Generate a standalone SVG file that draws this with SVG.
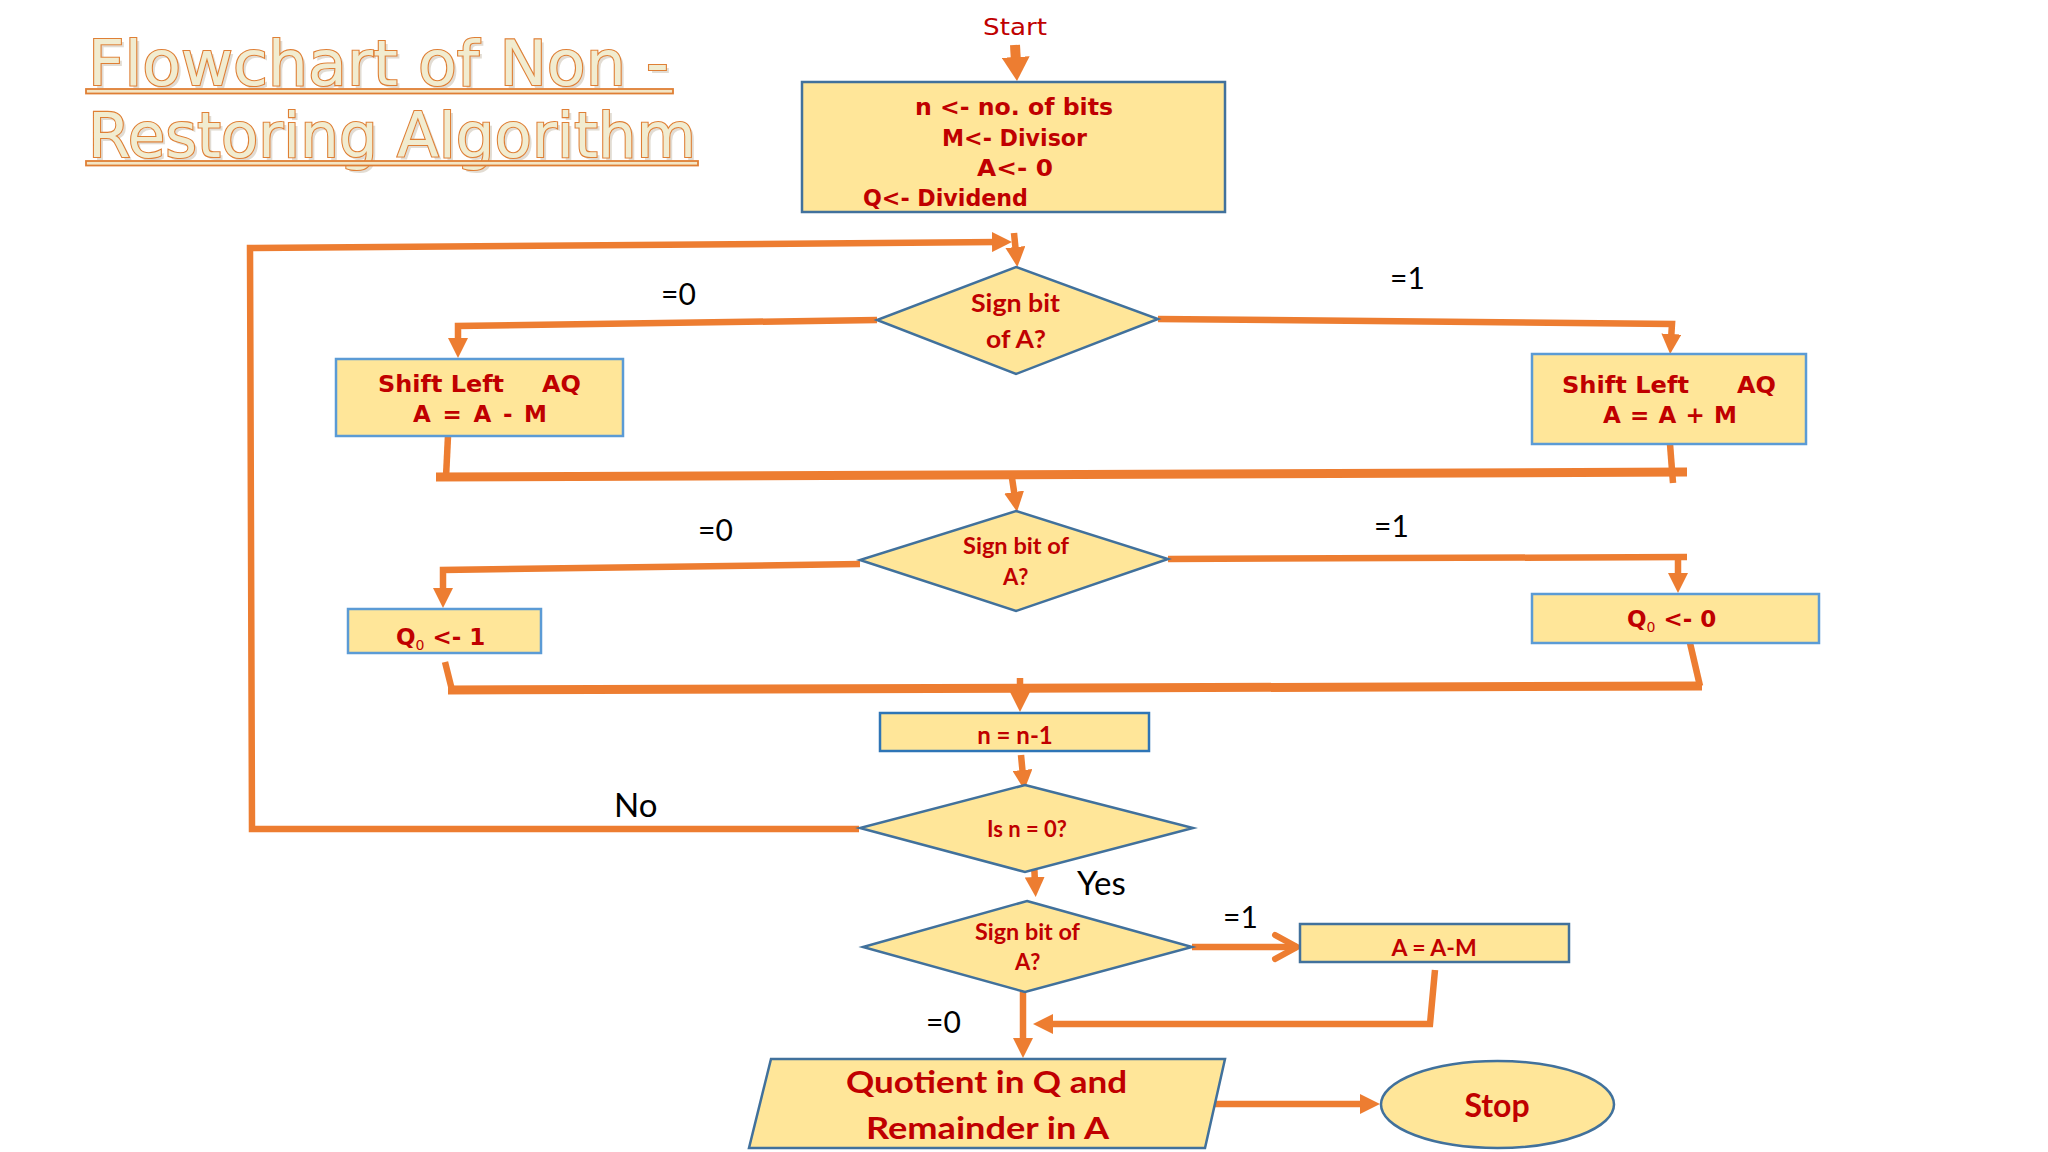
<svg xmlns="http://www.w3.org/2000/svg" width="2048" height="1152" viewBox="0 0 2048 1152">
<defs>
<style>
.bg{fill:#ffffff}
.box{fill:#ffe699;stroke:#41719c;stroke-width:2.5}
.boxl{fill:#ffe699;stroke:#5b9bd5;stroke-width:2.5}
.cn{fill:none;stroke:#ed7d31;stroke-width:6.5;stroke-linejoin:miter}
.thick{fill:none;stroke:#ed7d31;stroke-width:9}
.cm{font-family:"DejaVu Sans",sans-serif;font-weight:bold;fill:#c00000;font-size:23px}
.cb{font-family:Lato,"Open Sans",sans-serif;font-weight:bold;fill:#c00000}
.lb{font-family:Lato,"Open Sans",sans-serif;fill:#000000;font-size:30px}
.title{font-family:"DejaVu Sans",sans-serif;font-size:62px;fill:#f1ecd0;stroke:#df7f35;stroke-width:2.2;paint-order:stroke}
.tshadow{font-family:"DejaVu Sans",sans-serif;font-size:62px;fill:#cfc6b6;opacity:0.6}
.ul{fill:#f3e6c6;stroke:#df7f35;stroke-width:1.8}
</style>
<marker id="ah" markerUnits="userSpaceOnUse" viewBox="0 0 20 20" markerWidth="20" markerHeight="20" refX="6" refY="10" orient="auto">
<path d="M0,0 L20,10 L0,20 z" fill="#ed7d31"/>
</marker>
<marker id="ahBig" markerUnits="userSpaceOnUse" viewBox="0 0 24 28" markerWidth="24" markerHeight="28" refX="6" refY="14" orient="auto">
<path d="M0,0 L24,14 L0,28 z" fill="#ed7d31"/>
</marker>
<marker id="chev" markerUnits="userSpaceOnUse" viewBox="-4 -4 32 32" markerWidth="32" markerHeight="32" refX="22" refY="12" orient="auto" overflow="visible">
<path d="M0,0 L22,12 L0,24" fill="none" stroke="#ed7d31" stroke-width="6" stroke-linecap="round" stroke-linejoin="round"/>
</marker>
</defs>
<rect class="bg" x="0" y="0" width="2048" height="1152"/>

<g id="title">
<text class="tshadow" x="91" y="88" textLength="581" lengthAdjust="spacingAndGlyphs">Flowchart of Non -</text>
<text class="title" x="88" y="85" textLength="581" lengthAdjust="spacingAndGlyphs">Flowchart of Non -</text>
<rect class="ul" x="86" y="89" width="587" height="4.5"/>
<text class="tshadow" x="91" y="160" textLength="608" lengthAdjust="spacingAndGlyphs">Restoring Algorithm</text>
<text class="title" x="88" y="157" textLength="608" lengthAdjust="spacingAndGlyphs">Restoring Algorithm</text>
<rect class="ul" x="86" y="161" width="612" height="4.5"/>
</g>

<g id="connectors">
<path class="cn" style="stroke-width:10" d="M1015,45 L1016,63" marker-end="url(#ahBig)"/>
<path class="cn" d="M859,829 L252,829 L250,248 L998,242" marker-end="url(#ah)"/>
<path class="cn" d="M1014,233 L1016,253" marker-end="url(#ah)"/>
<path class="cn" d="M877,320 L458,326 L458,344" marker-end="url(#ah)"/>
<path class="cn" d="M1158,319 L1672,324 L1671,340" marker-end="url(#ah)"/>
<path class="cn" d="M448,436 L446,477"/>
<path class="thick" d="M436,477 L1687,472"/>
<path class="cn" d="M1670,444 L1673,483"/>
<path class="cn" d="M1012,478 L1015,498" marker-end="url(#ah)"/>
<path class="cn" d="M860,564 L443,570 L443,594" marker-end="url(#ah)"/>
<path class="cn" d="M1168,559 L1687,557"/>
<path class="cn" d="M1678,557 L1678,579" marker-end="url(#ah)"/>
<path class="cn" d="M445,662 L452,690"/>
<path class="thick" d="M448,690 L1702,686"/>
<path class="cn" d="M1690,643 L1700,686"/>
<path class="cn" d="M1020,678 L1020,698" marker-end="url(#ah)"/>
<path class="cn" d="M1021,755 L1023,776" marker-end="url(#ah)"/>
<path class="cn" d="M1034,862 L1035,883" marker-end="url(#ah)"/>
<path class="cn" d="M1192,947 L1297,947" marker-end="url(#chev)"/>
<path class="cn" d="M1435,970 L1430,1024 L1047,1024" marker-end="url(#ah)"/>
<path class="cn" d="M1023,992 L1023,1044" marker-end="url(#ah)"/>
<path class="cn" d="M1213,1104 L1366,1104" marker-end="url(#ah)"/>
</g>

<g id="labels">
<text class="lb" x="661" y="305">=0</text>
<text class="lb" x="1390" y="289">=1</text>
<text class="lb" x="698" y="541">=0</text>
<text class="lb" x="1374" y="537">=1</text>
<text class="lb" x="614" y="817" style="font-size:33px">No</text>
<text class="lb" x="1077" y="895" style="font-size:33px">Yes</text>
<text class="lb" x="1223" y="928">=1</text>
<text class="lb" x="926" y="1033">=0</text>
</g>

<g id="start">
<text x="983" y="35" textLength="64" lengthAdjust="spacingAndGlyphs" style="font-family:'DejaVu Sans',sans-serif;font-size:23px;fill:#c00000">Start</text>
</g>

<g id="init">
<rect class="box" x="802" y="82" width="423" height="130"/>
<text class="cm" x="915" y="115" textLength="198" lengthAdjust="spacingAndGlyphs">n &lt;- no. of bits</text>
<text class="cm" x="942" y="146" textLength="145" lengthAdjust="spacingAndGlyphs">M&lt;- Divisor</text>
<text class="cm" x="977" y="176" textLength="76" lengthAdjust="spacingAndGlyphs">A&lt;- 0</text>
<text class="cm" x="863" y="206" textLength="165" lengthAdjust="spacingAndGlyphs">Q&lt;- Dividend</text>
</g>

<g id="sign1">
<polygon class="box" points="1016,267 1158,319 1016,374 877,320"/>
<text class="cb" x="971" y="312" style="font-size:24px" textLength="89" lengthAdjust="spacingAndGlyphs">Sign bit</text>
<text class="cb" x="986" y="348" style="font-size:24px" textLength="60" lengthAdjust="spacingAndGlyphs">of A?</text>
</g>

<g id="shiftSub">
<rect class="boxl" x="336" y="359" width="287" height="77"/>
<text class="cm" x="378" y="392" textLength="126" lengthAdjust="spacingAndGlyphs">Shift Left</text>
<text class="cm" x="542" y="392" textLength="39" lengthAdjust="spacingAndGlyphs">AQ</text>
<text class="cm" x="413" y="422" textLength="134" lengthAdjust="spacing">A = A - M</text>
</g>

<g id="shiftAdd">
<rect class="boxl" x="1532" y="354" width="274" height="90"/>
<text class="cm" x="1562" y="393" textLength="127" lengthAdjust="spacingAndGlyphs">Shift Left</text>
<text class="cm" x="1737" y="393" textLength="39" lengthAdjust="spacingAndGlyphs">AQ</text>
<text class="cm" x="1603" y="423" textLength="134" lengthAdjust="spacing">A = A + M</text>
</g>

<g id="sign2">
<polygon class="box" points="1016,511 1168,559 1016,611 860,560"/>
<text class="cb" x="963" y="554" style="font-size:22px" textLength="106" lengthAdjust="spacingAndGlyphs">Sign bit of</text>
<text class="cb" x="1003" y="585" style="font-size:22px">A?</text>
</g>

<g id="q0set1">
<rect class="boxl" x="348" y="609" width="193" height="44"/>
<text class="cm" x="396" y="645"><tspan>Q</tspan><tspan style="font-size:14px;font-weight:normal" dy="5">0</tspan><tspan dy="-5"> &lt;- 1</tspan></text>
</g>

<g id="q0set0">
<rect class="boxl" x="1532" y="594" width="287" height="49"/>
<text class="cm" x="1627" y="627"><tspan>Q</tspan><tspan style="font-size:14px;font-weight:normal" dy="5">0</tspan><tspan dy="-5"> &lt;- 0</tspan></text>
</g>

<g id="decrement">
<rect class="box" x="880" y="713" width="269" height="38" style="stroke:#2e75b6"/>
<text class="cb" x="1015" y="744" text-anchor="middle" style="font-size:24px">n = n-1</text>
</g>

<g id="isZero">
<polygon class="box" points="1025,785 1193,828 1025,872 860,828"/>
<text class="cb" x="1027" y="837" text-anchor="middle" style="font-size:22px">Is n = 0?</text>
</g>

<g id="sign3">
<polygon class="box" points="1027,901 1192,947 1025,992 863,947"/>
<text class="cb" x="975" y="940" style="font-size:22px" textLength="105" lengthAdjust="spacingAndGlyphs">Sign bit of</text>
<text class="cb" x="1015" y="970" style="font-size:22px">A?</text>
</g>

<g id="restore">
<rect class="box" x="1300" y="924" width="269" height="38"/>
<text class="cb" x="1434" y="956" text-anchor="middle" style="font-size:23px">A = A-M</text>
</g>

<g id="result">
<polygon class="box" points="771,1059 1225,1059 1205,1148 749,1148"/>
<text class="cb" x="846" y="1093" style="font-size:31px" textLength="281" lengthAdjust="spacingAndGlyphs">Quotient in Q and</text>
<text class="cb" x="866" y="1139" style="font-size:31px" textLength="243" lengthAdjust="spacingAndGlyphs">Remainder in A</text>
</g>

<g id="stop">
<ellipse class="box" cx="1497.5" cy="1104.5" rx="116.5" ry="43.5"/>
<text class="cb" x="1497" y="1117" text-anchor="middle" style="font-size:32px">Stop</text>
</g>
</svg>
